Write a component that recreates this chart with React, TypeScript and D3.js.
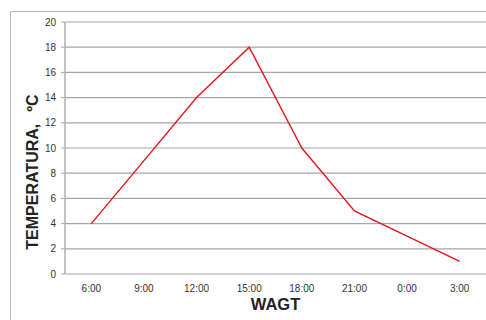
import React from "react";
import * as d3 from "d3";

const categories = ["6:00", "9:00", "12:00", "15:00", "18:00", "21:00", "0:00", "3:00"];
const temps = [4, 9, 14, 18, 10, 5, 3, 1];
const yTicks = [0, 2, 4, 6, 8, 10, 12, 14, 16, 18, 20];

export default function App() {
  const W = 486, H = 320;
  const left = 65, right = 486, top = 22, bottom = 274;
  const x = d3.scaleBand<string>().domain(categories).range([left, right]);
  const y = d3.scaleLinear().domain([0, 20]).range([bottom, top]);
  const line = d3
    .line<number>()
    .x((_, i) => (x(categories[i]) as number) + x.bandwidth() / 2)
    .y((d) => y(d));
  const font = "Arial, 'Liberation Sans', sans-serif";
  return (
    <svg
      width={W}
      height={H}
      style={{ position: "absolute", left: 0, top: 0, background: "#fff" }}
    >
      <path d={`M10.5,${H} V11.5 H${W}`} fill="none" stroke="#b8b8b8" strokeWidth={1} />
      {yTicks.map((t) => (
        <g key={t}>
          {t > 0 && (
            <line x1={left} x2={right} y1={y(t)} y2={y(t)} stroke="#a6a6a6" strokeWidth={1.2} />
          )}
          <line x1={left - 4} x2={left} y1={y(t)} y2={y(t)} stroke="#a6a6a6" strokeWidth={1} />
          <text
            x={left - 9}
            y={y(t)}
            dy="0.35em"
            textAnchor="end"
            fontSize={10}
            fill="#333"
            fontFamily={font}
          >
            {t}
          </text>
        </g>
      ))}
      <line x1={left} x2={right} y1={bottom} y2={bottom} stroke="#a6a6a6" strokeWidth={1.2} />
      <line x1={left} x2={left} y1={top} y2={bottom} stroke="#b0b0b0" strokeWidth={1.5} />
      {categories.map((c) => (
        <text
          key={c}
          x={(x(c) as number) + x.bandwidth() / 2}
          y={bottom + 14}
          dy="0.35em"
          textAnchor="middle"
          fontSize={10}
          fill="#333"
          fontFamily={font}
        >
          {c}
        </text>
      ))}
      <path d={line(temps) || ""} fill="none" stroke="#e8141c" strokeWidth={1.4} />
      <text
        x={(left + right) / 2}
        y={310}
        textAnchor="middle"
        fontSize={16.5}
        fontWeight="bold"
        fill="#222"
        fontFamily={font}
      >
        WAGT
      </text>
      <text
        transform={`translate(38,172) rotate(-90)`}
        textAnchor="middle"
        fontSize={16}
        fontWeight="bold"
        fill="#222"
        fontFamily={font}
      >
        <tspan>TEMPERATURA,</tspan>
        <tspan dx={12}>ºC</tspan>
      </text>
    </svg>
  );
}
